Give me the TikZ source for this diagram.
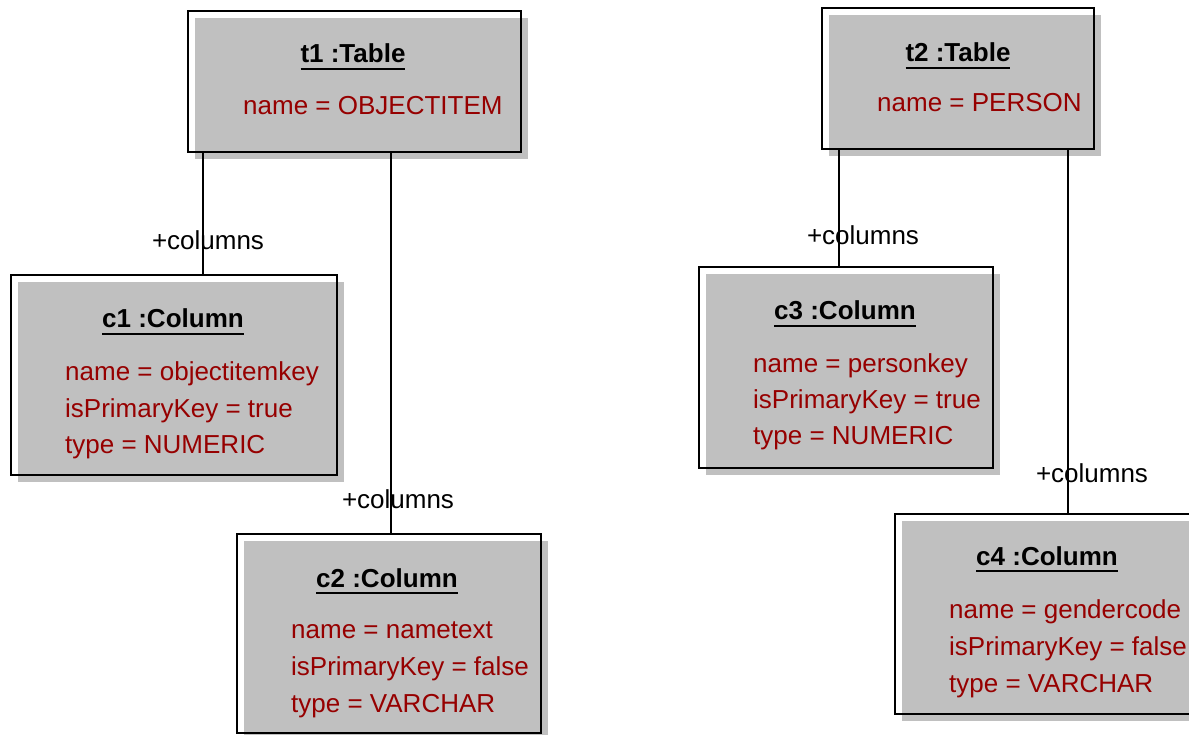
\documentclass[tikz,border=0pt]{standalone}
\usepackage{fontspec}
\setmainfont{Liberation Sans}
\usetikzlibrary{shadows}
\definecolor{boxgray}{RGB}{192,192,192}
\definecolor{attrred}{RGB}{150,0,0}

% bold object name with a solid underline
\newcommand\objname[1]{\setbox0\hbox{\bfseries #1}\rlap{\rule[-7pt]{\wd0}{2pt}}\box0}

\begin{document}
\begin{tikzpicture}[x=1pt,y=-1pt,
  objbox/.style={draw=black, line width=2pt, inner sep=0pt, anchor=north west,
    general shadow={fill=boxgray, shadow xshift=7pt, shadow yshift=-7pt}},
  objtitle/.style={anchor=base, inner sep=0pt, font=\fontsize{26}{30}\selectfont},
  attr/.style={anchor=base west, inner sep=0pt, text=attrred, font=\fontsize{26}{30}\selectfont},
  role/.style={anchor=base, inner sep=0pt, font=\fontsize{26}{30}\selectfont},
  link/.style={line width=2pt}]
\clip (0,0) rectangle (1189,735);

% object boxes
\node[objbox, minimum width=333pt, minimum height=141pt] (t1) at (187,10) {};
\node[objbox, minimum width=326pt, minimum height=200pt] (c1) at (10,274) {};
\node[objbox, minimum width=304pt, minimum height=199pt] (c2) at (236,533) {};
\node[objbox, minimum width=272pt, minimum height=141pt] (t2) at (821,7) {};
\node[objbox, minimum width=294pt, minimum height=201pt] (c3) at (698,266) {};
\node[objbox, minimum width=330pt, minimum height=200pt] (c4) at (894,513) {};

% titles
\node[objtitle] (t1title) at (353,63) {\objname{t1 :Table}};
\node[objtitle] (t2title) at (958,62) {\objname{t2 :Table}};
\node[objtitle] (c1title) at (173,328) {\objname{c1 :Column}};
\node[objtitle] (c2title) at (387,587) {\objname{c2 :Column}};
\node[objtitle] (c3title) at (845,320) {\objname{c3 :Column}};
\node[objtitle] (c4title) at (1047,565) {\objname{c4 :Column}};

% attribute slots
\node[attr] (t1a1) at (243,115) {name = OBJECTITEM};
\node[attr] (t2a1) at (877,112) {name = PERSON};

\node[attr] (c1a1) at (65,380) {name = objectitemkey};
\node[attr] (c1a2) at (65,417) {isPrimaryKey = true};
\node[attr] (c1a3) at (65,453) {type = NUMERIC};

\node[attr] (c2a1) at (291,638) {name = nametext};
\node[attr] (c2a2) at (291,675) {isPrimaryKey = false};
\node[attr] (c2a3) at (291,712) {type = VARCHAR};

\node[attr] (c3a1) at (753,372) {name = personkey};
\node[attr] (c3a2) at (753,408) {isPrimaryKey = true};
\node[attr] (c3a3) at (753,444) {type = NUMERIC};

\node[attr] (c4a1) at (949,618) {name = gendercode};
\node[attr] (c4a2) at (949,655) {isPrimaryKey = false};
\node[attr] (c4a3) at (949,692) {type = VARCHAR};

% links
\draw[link] ([xshift=16pt]t1.south west) -- ([xshift=16pt]t1.south west |- c1.north);
\draw[link] ([xshift=204pt]t1.south west) -- ([xshift=204pt]t1.south west |- c2.north);
\draw[link] ([xshift=18pt]t2.south west) -- ([xshift=18pt]t2.south west |- c3.north);
\draw[link] ([xshift=247pt]t2.south west) -- ([xshift=247pt]t2.south west |- c4.north);

% role names
\node[role] (r1) at (208,250) {+columns};
\node[role] (r2) at (398,508) {+columns};
\node[role] (r3) at (863,245) {+columns};
\node[role] (r4) at (1092,482) {+columns};
\end{tikzpicture}
\end{document}
